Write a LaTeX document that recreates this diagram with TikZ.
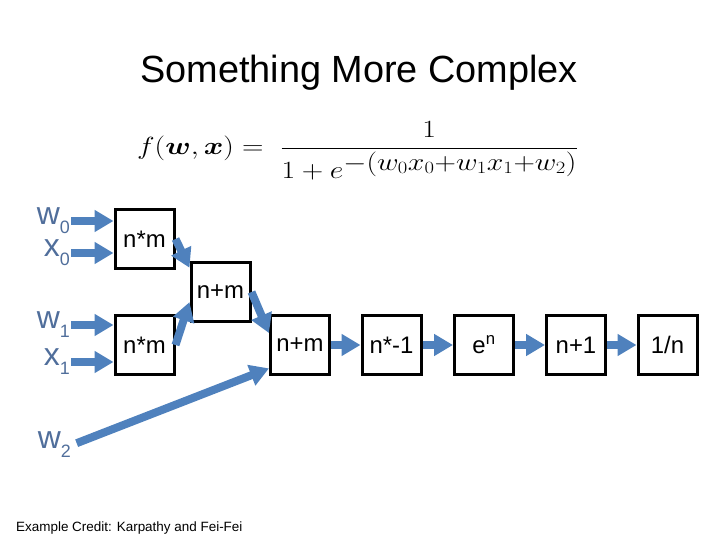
\documentclass[tikz,border=0pt]{standalone}
\usepackage{amsmath}
\usepackage{bm}
\usepackage{graphicx}
\usepackage[no-math]{fontspec}
\setmainfont{Liberation Sans}
\usetikzlibrary{arrows.meta}
\DeclareMathSizes{38}{38}{24}{17}
\definecolor{SetaAzul}{RGB}{79,129,189}
\definecolor{RotuloAzul}{RGB}{80,110,155}
\tikzset{
  caixa/.style={draw=black, line width=3bp, minimum size=59bp, inner sep=0pt,
                font=\fontsize{24}{28}\selectfont},
  seta/.style={-{Triangle[length=19bp,width=21bp]}, line width=8bp, SetaAzul},
  rotulo/.style={text=RotuloAzul, inner sep=1bp, anchor=east, font=\fontsize{32}{36}\selectfont},
  titulo/.style={font=\fontsize{38}{44}\selectfont, anchor=base},
  credito/.style={font=\fontsize{13.5}{15}\selectfont, anchor=base west, inner sep=0pt},
}
\newcommand{\indice}[1]{\raisebox{-0.28em}{\fontsize{18}{18}\selectfont #1}}
\begin{document}
\begin{tikzpicture}[x=1bp, y=-1bp]
  \useasboundingbox (0,0) rectangle (720,540);

  % --- Título e fórmula ------------------------------------------------------
  \node[titulo] (titulo) at (359,83) {Something More Complex};
  \node[anchor=west, inner sep=0pt, font=\fontsize{38}{44}\selectfont] (formula) at (137,151)
    {\scalebox{1.2}[1]{$f(\bm{w},\bm{x}) =\;\dfrac{1}{1+e^{-(w_0x_0+w_1x_1+w_2)}}$}};

  % --- Entradas ----------------------------------------------------------------
  \node[rotulo] (w0) at (71,221) {w\indice{0}};
  \node[rotulo] (x0) at (71,253) {x\indice{0}};
  \node[rotulo] (w1) at (71,325) {w\indice{1}};
  \node[rotulo] (x1) at (71,362) {x\indice{1}};
  \node[rotulo] (w2) at (72,445) {w\indice{2}};

  % --- Portas do grafo ---------------------------------------------------------
  \node[caixa] (mul0) at (144.5,239) {n*m};
  \node[caixa] (mul1) at (144.5,345) {n*m};
  \node[caixa] (add0) at (220.5,292) {n+m};
  \node[caixa] (add1) at (300,345)   {n+m};
  \node[caixa] (inv)  at (391.5,345) {n*-1};
  \node[caixa] (expo) at (484,345)   {e\textsuperscript{n}};
  \node[caixa] (mais) at (576,345)   {n+1};
  \node[caixa] (rec)  at (667.5,345) {1/n};

  % --- Setas -------------------------------------------------------------------
  \draw[seta] (w0.east) -- (w0.east -| mul0.west);
  \draw[seta] (x0.east) -- (x0.east -| mul0.west);
  \draw[seta] (w1.east) -- (w1.east -| mul1.west);
  \draw[seta] (x1.east) -- (x1.east -| mul1.west);
  \draw[seta] (mul0.east) -- (add0.142);
  \draw[seta] (mul1.east) -- (add0.198);
  \draw[seta] (add0.east) -- (add1.159);
  \draw[seta, shorten <=5bp] (w2.east) -- (add1.217);
  \draw[seta] (add1) -- (inv);
  \draw[seta] (inv)  -- (expo);
  \draw[seta] (expo) -- (mais);
  \draw[seta] (mais) -- (rec);

  % --- Crédito -----------------------------------------------------------------
  \node[credito] (credito) at (16,531) {Example Credit: Karpathy and Fei-Fei};
\end{tikzpicture}
\end{document}
